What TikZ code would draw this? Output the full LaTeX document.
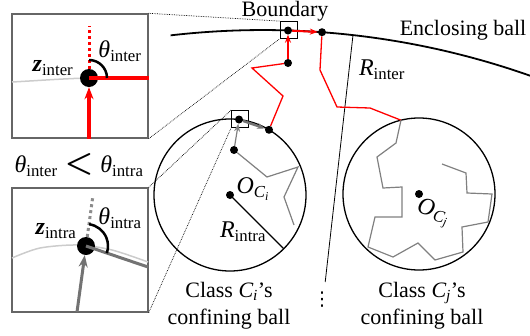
\documentclass[tikz,border=0pt]{standalone}
\usepackage{amsmath,amssymb}
\usepackage{fontspec}
\setmainfont{Liberation Serif}
\newfontfamily\symfont{DejaVu Sans}
\usetikzlibrary{arrows.meta}

\tikzset{
  dot/.style={circle, fill=black, inner sep=0pt, minimum size=8pt},
  bigdot/.style={circle, fill=black, inner sep=0pt, minimum size=18pt},
  zoombox/.style={draw, line width=0.8pt, inner sep=0pt, minimum size=17pt},
  inset/.style={draw=black!60, line width=1.4pt, inner sep=0pt, minimum width=136pt, minimum height=124pt},
  link/.style={densely dotted, line width=0.7pt},
  redpath/.style={red, line width=1.3pt},
  graypath/.style={black!50, line width=1.2pt},
  arr/.style={-{Stealth[length=8pt, width=6pt]}},
  bigarr/.style={-{Stealth[length=12pt, width=9pt]}},
  mathlbl/.style={font=\fontsize{24}{28}\selectfont, inner sep=1pt},
}

\begin{document}
\begin{tikzpicture}[x=1pt, y=-1pt, font=\fontsize{22}{27}\selectfont]
    \useasboundingbox (0,0) rectangle (530,335);

    % Enclosing ball
    \coordinate (O) at (263,834);
    \draw[line width=1.8pt] (O) ++(-96.6:804) arc[start angle=-96.6, end angle=-70.6, radius=804];
    \node (enclbl) at (463,30) {Enclosing ball};
    \node (bndlbl) at (285,11) {Boundary};

    % Radius of enclosing ball
    \coordinate (rin1) at (353,35);
    \coordinate (rin2) at (325.2,282);
    \draw[line width=0.8pt] (rin1) -- (rin2);
    \node[mathlbl] (rinlbl) at (382,70) {$\textit{R}_{\text{inter}}$};
    \node[inner sep=0pt] (vdots) at (322,300) {\fontsize{19}{19}\symfont ⋮};

    % Class C_i
    \coordinate (ci) at (230,195);
    \draw[line width=1.3pt] (ci) circle[radius=76];
    \node[dot] (oci) at (ci) {};
    \node[mathlbl] (ocilbl) at (253,189) {$\textit{O}_{\textit{C}_{\textit{i}}}$};
    \coordinate (rci) at (283.7,248.7);
    \draw[line width=1.2pt] (oci.center) -- (rci);
    \node[mathlbl] (rcilbl) at (243,232) {$\textit{R}_{\text{intra}}$};
    \node (clsi) [align=center] at (229,306) {Class $\textit{C}_{\textit{i}}$’s\\confining ball};

    % Class C_j
    \coordinate (cj) at (419,194);
    \draw[line width=1.3pt] (cj) circle[radius=76];
    \node[dot] (ocj) at (cj) {};
    \node[mathlbl] (ocjlbl) [rotate=-14] at (433,213) {$\textit{O}_{\textit{C}_{\textit{j}}}$};
    \node (clsj) [align=center] at (422,306) {Class $\textit{C}_{\textit{j}}$’s\\confining ball};

    % Points on the boundaries
    \node[dot] (b1) at (288,30.5) {};
    \node[dot] (b2) at (322,32.2) {};
    \node[dot] (r1) at (288,63) {};
    \node[dot] (ci0) at (234,150) {};
    \node[dot] (ci1) at (239,119.5) {};
    \node[dot] (ci2) at (269,129.8) {};
    \coordinate (cj1) at (401,120.2);
    \node[zoombox] (boxA) at (288.5,30) {};
    \node[zoombox] (boxB) at (240,119) {};

    % Trajectories
    \draw[graypath] (294,225) -- (284,197) -- (298,167) -- (267,177) -- (ci0);
    \draw[graypath, arr] (ci0) -- (ci1);
    \draw[black!55, line width=2.5pt, arr] (ci1) -- (ci2);
    \draw[redpath] (ci2) -- (283,96) -- (252,68) -- (r1);
    \draw[red, line width=2pt, arr] (r1) -- (b1);
    \draw[red, line width=2pt, arr] (b1) -- (b2);
    \draw[redpath] (b2) -- (320,70) -- (337,107) -- (370,108) -- (cj1);
    \draw[graypath] (cj1) -- (396,143) -- (377,157) -- (383,188) -- (402,187) -- (402,217)
        -- (375,217) -- (368,247) -- (393,257) -- (418,243) -- (435,260) -- (463,252)
        -- (462,227) -- (488,222) -- (492,194) -- (467,193) -- (466,173) -- (442,164);

    % Zoom insets
    \node[inset] (insetA) at (80,76) {};
    \node[inset] (insetB) at (80,250) {};
    \draw[link] (insetA.north east) -- (boxA.north west);
    \draw[link] (insetA.south east) -- (boxA.south west);
    \draw[link] (insetB.north east) -- (boxB.north west);
    \draw[link] (insetB.south east) -- (boxB.south west);

    % Inset: inter-class
    \draw[black!20, line width=1.5pt] (12,82) .. controls (40,80.5) and (65,78.5) .. (89,78);
    \node[bigdot] (zA) at (89,78) {};
    \draw[red, line width=3.3pt] (zA.center) -- (zA.center -| insetA.east);
    \draw[red, line width=3.3pt, bigarr] (zA.center |- insetA.south) -- (zA);
    \draw[red, line width=3pt, dash pattern=on 3pt off 3pt] (zA) -- (89,26);
    \draw[line width=2.5pt] (zA.center) ++(-90:18) arc[start angle=-90, end angle=0, radius=18];
    \node[mathlbl] (zAlbl) at (53,68) {$\textbf{\textit{z}}_{\text{inter}}$};
    \node[mathlbl] (thA) at (120,51) {$\textit{θ}_{\text{inter}}$};

    \node[mathlbl] (cmp) at (79,165) {$\textit{θ}_{\text{inter}}\mathrel{\scalebox{1.3}{$\boldsymbol{<}$}}\textit{θ}_{\text{intra}}$};

    % Inset: intra-class
    \draw[black!20, line width=1.5pt] plot[smooth] coordinates {(12,258) (40,248) (78,245) (112,250) (148,262)};
    \node[bigdot] (zB) at (86,246) {};
    \draw[black!55, line width=3pt] (zB.center) -- (148,267);
    \draw[black!55, line width=3pt, bigarr] (77,312) -- (zB);
    \draw[black!45, line width=3pt, dash pattern=on 3pt off 3pt] (zB) -- (92.8,196.5);
    \draw[line width=2.5pt] (zB.center) ++(-82:22) arc[start angle=-82, end angle=19, radius=22];
    \node[mathlbl] (zBlbl) at (56,231) {$\textbf{\textit{z}}_{\text{intra}}$};
    \node[mathlbl] (thB) at (120,218) {$\textit{θ}_{\text{intra}}$};
\end{tikzpicture}
\end{document}
